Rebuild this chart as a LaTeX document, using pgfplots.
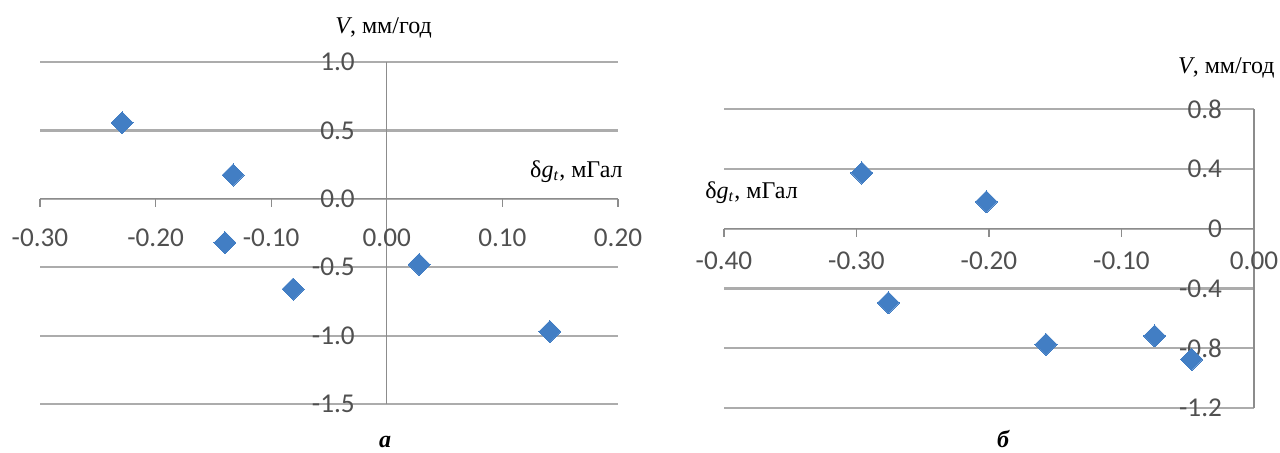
\documentclass[border=0pt]{standalone}
\usepackage{fontspec}
\setmainfont{Liberation Serif}
\newfontfamily\tickfont{Carlito}
\usepackage{pgfplots}
\pgfplotsset{compat=1.18}
\definecolor{mk}{RGB}{66,126,196}
\definecolor{grd}{RGB}{172,172,172}
\definecolor{axc}{RGB}{140,140,140}
\definecolor{tl}{RGB}{80,80,80}

\pgfplotstableread{
x y
-0.229 0.556
-0.133 0.174
-0.140 -0.32
-0.081 -0.66
0.028 -0.48
0.141 -0.97
}\dataA

\pgfplotstableread{
x y
-0.296 0.372
-0.202 0.18
-0.276 -0.496
-0.157 -0.774
-0.075 -0.718
-0.047 -0.874
}\dataB

\pgfplotsset{
  mystyle/.style={
    scale only axis,
    axis lines=middle,
    axis line style={draw=axc, line width=0.6pt, -},
    enlargelimits=false,
    ymajorgrids,
    grid style={draw=grd, line width=1.1pt},
    hide obscured x ticks=false,
    hide obscured y ticks=false,
    tick label style={font=\tickfont\fontsize{13.6}{13.6}\selectfont, text=tl},
    x tick style={draw=axc, line width=0.6pt},
    y tick style={draw=none},
    tick align=outside,
    major tick length=4pt,
    clip=false,
    yticklabel style={xshift=-8.5pt},
  },
  mymark/.style={only marks, mark=square*, mark size=3.9pt,
    mark options={rotate=45, fill=mk, draw=mk, line width=0pt}},
}

\begin{document}
\begin{tikzpicture}[x=1pt,y=1pt]
\path[use as bounding box] (0,0) rectangle (640,226);

\begin{axis}[mystyle,
  at={(20pt,24pt)}, anchor=south west,
  width=289pt, height=171pt,
  xmin=-0.3, xmax=0.2, ymin=-1.5, ymax=1.0,
  xtick={-0.3,-0.2,-0.1,0,0.1,0.2},
  xticklabels={-0.30,-0.20,-0.10,0.00,0.10,0.20},
  ytick={-1.5,-1,-0.5,0,0.5,1},
  yticklabels={-1.5,-1.0,-0.5,0.0,0.5,1.0},
  xticklabel style={yshift=-7.5pt},
]
\addplot[mymark] table[x=x,y=y] {\dataA};
\end{axis}

\begin{axis}[mystyle,
  at={(362pt,22pt)}, anchor=south west,
  width=265pt, height=149.5pt,
  xmin=-0.4, xmax=0, ymin=-1.2, ymax=0.8,
  xtick={-0.4,-0.3,-0.2,-0.1,0},
  xticklabels={-0.40,-0.30,-0.20,-0.10,0.00},
  ytick={-1.2,-0.8,-0.4,0,0.4,0.8},
  yticklabels={-1.2,-0.8,-0.4,0,0.4,0.8},
  xticklabel style={yshift=-4pt},
]
\addplot[mymark] table[x=x,y=y] {\dataB};
\end{axis}

\node[anchor=base west, inner sep=0pt, font=\fontsize{12}{12}\selectfont] at (167.5,209.5) {\textit{V}, мм/год};
\node[anchor=base east, inner sep=0pt, font=\fontsize{12}{12}\selectfont] at (311.5,137.5) {δ\textit{g}\textsubscript{\textit{t}}, мГал};
\node[anchor=base east, inner sep=0pt, font=\fontsize{12}{12}\selectfont] at (637.5,189.5) {\textit{V}, мм/год};
\node[anchor=base west, inner sep=0pt, font=\fontsize{12}{12}\selectfont] at (352.5,127) {δ\textit{g}\textsubscript{\textit{t}}, мГал};
\node[anchor=base, inner sep=0pt, font=\fontsize{12}{12}\selectfont\bfseries\itshape] at (192.5,2.5) {а};
\node[anchor=base, inner sep=0pt, font=\fontsize{12}{12}\selectfont\bfseries\itshape] at (501.5,2.5) {б};
\end{tikzpicture}
\end{document}
